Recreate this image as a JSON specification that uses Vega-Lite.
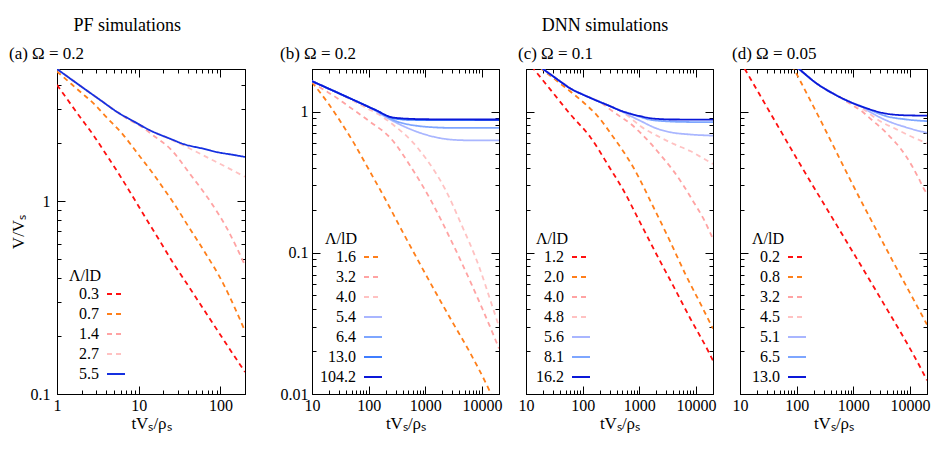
{
  "$schema": "https://vega.github.io/schema/vega-lite/v6.json",
  "background": "white",
  "padding": {"left": 8, "top": 16, "right": 13, "bottom": 4},
  "config": {
    "font": "Liberation Serif",
    "view": {"stroke": "black", "strokeWidth": 1},
    "axis": {
      "grid": false, "domainColor": "black", "tickColor": "black", "labelColor": "black", "titleColor": "black",
      "labelFont": "Liberation Serif", "titleFont": "Liberation Serif", "labelFontSize": 16, "titleFontSize": 17,
      "titleFontWeight": "normal", "labelFlush": false, "labelOverlap": false, "labelPadding": 11, "tickWidth": 1
    },
    "axisX": {"titlePadding": -2},
    "title": {"font": "Liberation Serif", "fontWeight": "normal", "fontSize": 17, "color": "black"},
    "legend": {
      "labelFont": "Liberation Serif", "titleFont": "Liberation Serif", "labelFontSize": 16, "titleFontSize": 16,
      "titleFontWeight": "normal", "labelColor": "black", "titleColor": "black", "rowPadding": 2, "titlePadding": 0,
      "symbolType": "stroke", "symbolSize": 324, "symbolStrokeWidth": 1.8, "labelAlign": "right", "labelOffset": -27,
      "titleAlign": "right", "titleAnchor": "start"
    },
    "line": {"strokeWidth": 1.8, "clip": true, "interpolate": "monotone"}
  },
  "datasets": {
    "a": [
      {"l":"0.3","t":1,"v":4.02},{"l":"0.3","t":1.5,"v":3.16},{"l":"0.3","t":2,"v":2.67},{"l":"0.3","t":2.8,"v":2.2},{"l":"0.3","t":4,"v":1.75},{"l":"0.3","t":5.95,"v":1.35},{"l":"0.3","t":8,"v":1.1},{"l":"0.3","t":12.6,"v":0.8},{"l":"0.3","t":18,"v":0.626},{"l":"0.3","t":26.7,"v":0.475},{"l":"0.3","t":40,"v":0.367},{"l":"0.3","t":56.8,"v":0.292},{"l":"0.3","t":80,"v":0.234},{"l":"0.3","t":120,"v":0.18},{"l":"0.3","t":175,"v":0.1415},{"l":"0.3","t":200,"v":0.13},
      {"l":"0.7","t":1,"v":4.72},{"l":"0.7","t":1.5,"v":4.06},{"l":"0.7","t":2,"v":3.65},{"l":"0.7","t":2.8,"v":3.22},{"l":"0.7","t":4,"v":2.74},{"l":"0.7","t":6.53,"v":2.2},{"l":"0.7","t":10,"v":1.74},{"l":"0.7","t":15.2,"v":1.38},{"l":"0.7","t":20,"v":1.17},{"l":"0.7","t":26.7,"v":0.98},{"l":"0.7","t":40,"v":0.748},{"l":"0.7","t":62.3,"v":0.557},{"l":"0.7","t":109,"v":0.372},{"l":"0.7","t":150,"v":0.28},{"l":"0.7","t":200,"v":0.212},
      {"l":"1.4","t":1,"v":4.86},{"l":"1.4","t":1.5,"v":4.29},{"l":"1.4","t":2.12,"v":3.86},{"l":"1.4","t":3.5,"v":3.32},{"l":"1.4","t":5.43,"v":2.91},{"l":"1.4","t":8,"v":2.62},{"l":"1.4","t":10.5,"v":2.46},{"l":"1.4","t":15,"v":2.2},{"l":"1.4","t":24.4,"v":1.87},{"l":"1.4","t":42.8,"v":1.38},{"l":"1.4","t":75,"v":1.0},{"l":"1.4","t":120,"v":0.725},{"l":"1.4","t":200,"v":0.465},
      {"l":"2.7","t":1,"v":4.86},{"l":"2.7","t":1.5,"v":4.29},{"l":"2.7","t":2.12,"v":3.86},{"l":"2.7","t":3.5,"v":3.32},{"l":"2.7","t":5.43,"v":2.91},{"l":"2.7","t":8.66,"v":2.6},{"l":"2.7","t":13.9,"v":2.33},{"l":"2.7","t":24.4,"v":2.1},{"l":"2.7","t":39,"v":1.91},{"l":"2.7","t":75,"v":1.66},{"l":"2.7","t":120,"v":1.5},{"l":"2.7","t":200,"v":1.34},
      {"l":"5.5","t":1,"v":4.86},{"l":"5.5","t":1.5,"v":4.29},{"l":"5.5","t":2.12,"v":3.86},{"l":"5.5","t":3.5,"v":3.32},{"l":"5.5","t":5.43,"v":2.91},{"l":"5.5","t":8.66,"v":2.6},{"l":"5.5","t":13.9,"v":2.33},{"l":"5.5","t":24.4,"v":2.11},{"l":"5.5","t":35.6,"v":1.98},{"l":"5.5","t":60,"v":1.88},{"l":"5.5","t":91,"v":1.8},{"l":"5.5","t":140,"v":1.745},{"l":"5.5","t":200,"v":1.7}
    ],
    "b": [
      {"l":"1.6","t":10,"v":1.61},{"l":"1.6","t":20,"v":1.12},{"l":"1.6","t":30,"v":0.88},{"l":"1.6","t":56,"v":0.59},{"l":"1.6","t":100,"v":0.39},{"l":"1.6","t":191,"v":0.245},{"l":"1.6","t":400,"v":0.14},{"l":"1.6","t":748,"v":0.088},{"l":"1.6","t":1500,"v":0.053},{"l":"1.6","t":2920,"v":0.033},{"l":"1.6","t":6000,"v":0.02},{"l":"1.6","t":12170,"v":0.0116},{"l":"1.6","t":16000,"v":0.0092},{"l":"1.6","t":20000,"v":0.0078},
      {"l":"3.2","t":10,"v":1.64},{"l":"3.2","t":14,"v":1.48},{"l":"3.2","t":25,"v":1.28},{"l":"3.2","t":40,"v":1.12},{"l":"3.2","t":100,"v":0.86},{"l":"3.2","t":250,"v":0.64},{"l":"3.2","t":570,"v":0.4},{"l":"3.2","t":1290,"v":0.23},{"l":"3.2","t":2920,"v":0.12},{"l":"3.2","t":6650,"v":0.059},{"l":"3.2","t":14900,"v":0.028},{"l":"3.2","t":20000,"v":0.021},
      {"l":"4.0","t":10,"v":1.64},{"l":"4.0","t":20,"v":1.45},{"l":"4.0","t":30,"v":1.34},{"l":"4.0","t":60,"v":1.16},{"l":"4.0","t":100,"v":1.04},{"l":"4.0","t":146,"v":0.96},{"l":"4.0","t":288,"v":0.79},{"l":"4.0","t":570,"v":0.62},{"l":"4.0","t":980,"v":0.476},{"l":"4.0","t":2220,"v":0.284},{"l":"4.0","t":4380,"v":0.157},{"l":"4.0","t":8670,"v":0.082},{"l":"4.0","t":14900,"v":0.043},{"l":"4.0","t":20000,"v":0.03},
      {"l":"5.4","t":10,"v":1.64},{"l":"5.4","t":20,"v":1.447},{"l":"5.4","t":50,"v":1.225},{"l":"5.4","t":100,"v":1.078},{"l":"5.4","t":150,"v":0.98},{"l":"5.4","t":191,"v":0.925},{"l":"5.4","t":378,"v":0.8},{"l":"5.4","t":748,"v":0.714},{"l":"5.4","t":1470,"v":0.66},{"l":"5.4","t":2920,"v":0.632},{"l":"5.4","t":6000,"v":0.625},{"l":"5.4","t":20000,"v":0.624},
      {"l":"6.4","t":10,"v":1.64},{"l":"6.4","t":20,"v":1.447},{"l":"6.4","t":50,"v":1.225},{"l":"6.4","t":100,"v":1.078},{"l":"6.4","t":150,"v":0.995},{"l":"6.4","t":191,"v":0.94},{"l":"6.4","t":288,"v":0.862},{"l":"6.4","t":500,"v":0.81},{"l":"6.4","t":748,"v":0.79},{"l":"6.4","t":1500,"v":0.772},{"l":"6.4","t":2920,"v":0.766},{"l":"6.4","t":20000,"v":0.765},
      {"l":"13.0","t":10,"v":1.64},{"l":"13.0","t":20,"v":1.447},{"l":"13.0","t":50,"v":1.225},{"l":"13.0","t":100,"v":1.078},{"l":"13.0","t":150,"v":1.0},{"l":"13.0","t":191,"v":0.947},{"l":"13.0","t":250,"v":0.905},{"l":"13.0","t":378,"v":0.88},{"l":"13.0","t":600,"v":0.872},{"l":"13.0","t":1000,"v":0.87},{"l":"13.0","t":20000,"v":0.868},
      {"l":"104.2","t":10,"v":1.64},{"l":"104.2","t":20,"v":1.447},{"l":"104.2","t":50,"v":1.225},{"l":"104.2","t":100,"v":1.078},{"l":"104.2","t":150,"v":1.0},{"l":"104.2","t":191,"v":0.95},{"l":"104.2","t":250,"v":0.912},{"l":"104.2","t":378,"v":0.895},{"l":"104.2","t":600,"v":0.886},{"l":"104.2","t":1000,"v":0.882},{"l":"104.2","t":3000,"v":0.879},{"l":"104.2","t":20000,"v":0.878}
    ],
    "c": [
      {"l":"1.2","t":10,"v":2.35},{"l":"1.2","t":13.7,"v":2.0},{"l":"1.2","t":27,"v":1.43},{"l":"1.2","t":60,"v":0.96},{"l":"1.2","t":136,"v":0.66},{"l":"1.2","t":300,"v":0.4},{"l":"1.2","t":525,"v":0.277},{"l":"1.2","t":1000,"v":0.168},{"l":"1.2","t":2040,"v":0.0964},{"l":"1.2","t":4000,"v":0.058},{"l":"1.2","t":7900,"v":0.0344},{"l":"1.2","t":16600,"v":0.02},{"l":"1.2","t":20000,"v":0.0172},
      {"l":"2.0","t":10,"v":2.46},{"l":"2.0","t":19,"v":2.0},{"l":"2.0","t":40,"v":1.58},{"l":"2.0","t":69,"v":1.33},{"l":"2.0","t":120,"v":1.1},{"l":"2.0","t":179,"v":0.94},{"l":"2.0","t":329,"v":0.68},{"l":"2.0","t":791,"v":0.4},{"l":"2.0","t":1780,"v":0.21},{"l":"2.0","t":3510,"v":0.12},{"l":"2.0","t":6460,"v":0.071},{"l":"2.0","t":11860,"v":0.044},{"l":"2.0","t":20000,"v":0.029},
      {"l":"4.0","t":10,"v":2.5},{"l":"4.0","t":20,"v":2.0},{"l":"4.0","t":31,"v":1.76},{"l":"4.0","t":45,"v":1.58},{"l":"4.0","t":60,"v":1.46},{"l":"4.0","t":100,"v":1.32},{"l":"4.0","t":136,"v":1.25},{"l":"4.0","t":200,"v":1.17},{"l":"4.0","t":300,"v":1.04},{"l":"4.0","t":462,"v":0.92},{"l":"4.0","t":700,"v":0.82},{"l":"4.0","t":1000,"v":0.72},{"l":"4.0","t":1550,"v":0.6},{"l":"4.0","t":2500,"v":0.48},{"l":"4.0","t":4000,"v":0.38},{"l":"4.0","t":6000,"v":0.3},{"l":"4.0","t":9000,"v":0.23},{"l":"4.0","t":13500,"v":0.175},{"l":"4.0","t":20000,"v":0.125},
      {"l":"4.8","t":10,"v":2.5},{"l":"4.8","t":20,"v":2.0},{"l":"4.8","t":31,"v":1.76},{"l":"4.8","t":45,"v":1.58},{"l":"4.8","t":60,"v":1.46},{"l":"4.8","t":100,"v":1.32},{"l":"4.8","t":136,"v":1.25},{"l":"4.8","t":200,"v":1.17},{"l":"4.8","t":307,"v":1.09},{"l":"4.8","t":450,"v":1.02},{"l":"4.8","t":525,"v":0.98},{"l":"4.8","t":700,"v":0.9},{"l":"4.8","t":1040,"v":0.79},{"l":"4.8","t":2040,"v":0.675},{"l":"4.8","t":4010,"v":0.59},{"l":"4.8","t":7900,"v":0.525},{"l":"4.8","t":13550,"v":0.465},{"l":"4.8","t":20000,"v":0.425},
      {"l":"5.6","t":10,"v":2.5},{"l":"5.6","t":20,"v":2.0},{"l":"5.6","t":31,"v":1.76},{"l":"5.6","t":45,"v":1.58},{"l":"5.6","t":60,"v":1.46},{"l":"5.6","t":100,"v":1.32},{"l":"5.6","t":136,"v":1.25},{"l":"5.6","t":200,"v":1.17},{"l":"5.6","t":307,"v":1.09},{"l":"5.6","t":450,"v":1.02},{"l":"5.6","t":520,"v":0.99},{"l":"5.6","t":700,"v":0.93},{"l":"5.6","t":1040,"v":0.86},{"l":"5.6","t":2000,"v":0.76},{"l":"5.6","t":3500,"v":0.714},{"l":"5.6","t":7900,"v":0.688},{"l":"5.6","t":20000,"v":0.675},
      {"l":"8.1","t":10,"v":2.5},{"l":"8.1","t":20,"v":2.0},{"l":"8.1","t":31,"v":1.76},{"l":"8.1","t":45,"v":1.58},{"l":"8.1","t":60,"v":1.46},{"l":"8.1","t":100,"v":1.32},{"l":"8.1","t":136,"v":1.25},{"l":"8.1","t":200,"v":1.17},{"l":"8.1","t":307,"v":1.09},{"l":"8.1","t":450,"v":1.02},{"l":"8.1","t":693,"v":0.965},{"l":"8.1","t":1000,"v":0.92},{"l":"8.1","t":1550,"v":0.875},{"l":"8.1","t":3500,"v":0.85},{"l":"8.1","t":7000,"v":0.843},{"l":"8.1","t":20000,"v":0.84},
      {"l":"16.2","t":10,"v":2.5},{"l":"16.2","t":20,"v":2.0},{"l":"16.2","t":31,"v":1.76},{"l":"16.2","t":45,"v":1.58},{"l":"16.2","t":60,"v":1.46},{"l":"16.2","t":100,"v":1.32},{"l":"16.2","t":136,"v":1.25},{"l":"16.2","t":200,"v":1.17},{"l":"16.2","t":307,"v":1.09},{"l":"16.2","t":450,"v":1.02},{"l":"16.2","t":693,"v":0.965},{"l":"16.2","t":1000,"v":0.93},{"l":"16.2","t":1550,"v":0.897},{"l":"16.2","t":2500,"v":0.883},{"l":"16.2","t":3500,"v":0.878},{"l":"16.2","t":20000,"v":0.877}
    ],
    "d": [
      {"l":"0.2","t":10,"v":2.28},{"l":"0.2","t":12.6,"v":1.95},{"l":"0.2","t":30,"v":1.07},{"l":"0.2","t":118,"v":0.416},{"l":"0.2","t":597,"v":0.141},{"l":"0.2","t":3030,"v":0.0475},{"l":"0.2","t":15400,"v":0.0153},{"l":"0.2","t":20000,"v":0.0125},
      {"l":"0.8","t":70,"v":2.43},{"l":"0.8","t":90,"v":2.0},{"l":"0.8","t":283,"v":0.82},{"l":"0.8","t":557,"v":0.476},{"l":"0.8","t":1025,"v":0.292},{"l":"0.8","t":2300,"v":0.157},{"l":"0.8","t":5000,"v":0.087},{"l":"0.8","t":10000,"v":0.052},{"l":"0.8","t":20000,"v":0.031},
      {"l":"3.2","t":70,"v":2.32},{"l":"3.2","t":110,"v":2.0},{"l":"3.2","t":232,"v":1.567},{"l":"3.2","t":456,"v":1.33},{"l":"3.2","t":637,"v":1.23},{"l":"3.2","t":1000,"v":1.1},{"l":"3.2","t":1436,"v":1.0},{"l":"3.2","t":2000,"v":0.89},{"l":"3.2","t":3720,"v":0.714},{"l":"3.2","t":8350,"v":0.489},{"l":"3.2","t":14350,"v":0.335},{"l":"3.2","t":17600,"v":0.284},{"l":"3.2","t":20000,"v":0.262},
      {"l":"4.5","t":70,"v":2.32},{"l":"4.5","t":110,"v":2.0},{"l":"4.5","t":232,"v":1.567},{"l":"4.5","t":456,"v":1.33},{"l":"4.5","t":897,"v":1.164},{"l":"4.5","t":1500,"v":1.04},{"l":"4.5","t":2830,"v":0.864},{"l":"4.5","t":5570,"v":0.754},{"l":"4.5","t":9550,"v":0.677},{"l":"4.5","t":20000,"v":0.597},
      {"l":"5.1","t":70,"v":2.32},{"l":"5.1","t":110,"v":2.0},{"l":"5.1","t":232,"v":1.567},{"l":"5.1","t":456,"v":1.33},{"l":"5.1","t":897,"v":1.164},{"l":"5.1","t":1400,"v":1.085},{"l":"5.1","t":2000,"v":0.99},{"l":"5.1","t":3720,"v":0.87},{"l":"5.1","t":8350,"v":0.775},{"l":"5.1","t":20000,"v":0.706},
      {"l":"6.5","t":70,"v":2.32},{"l":"6.5","t":110,"v":2.0},{"l":"6.5","t":232,"v":1.567},{"l":"6.5","t":456,"v":1.33},{"l":"6.5","t":897,"v":1.164},{"l":"6.5","t":1765,"v":1.05},{"l":"6.5","t":2500,"v":0.985},{"l":"6.5","t":3720,"v":0.93},{"l":"6.5","t":8350,"v":0.88},{"l":"6.5","t":20000,"v":0.855},
      {"l":"13.0","t":70,"v":2.32},{"l":"13.0","t":110,"v":2.0},{"l":"13.0","t":232,"v":1.567},{"l":"13.0","t":456,"v":1.33},{"l":"13.0","t":897,"v":1.164},{"l":"13.0","t":1765,"v":1.05},{"l":"13.0","t":3600,"v":0.97},{"l":"13.0","t":8350,"v":0.94},{"l":"13.0","t":20000,"v":0.935}
    ]
  },
  "spacing": 33,
  "resolve": {"scale": {"x": "independent", "y": "independent", "color": "independent", "strokeDash": "independent"}, "legend": {"color": "independent", "strokeDash": "independent"}},
  "hconcat": [
    {
      "title": {"text": "PF simulations", "anchor": "middle", "fontSize": 18, "offset": 9},
      "hconcat": [
        {
          "width": 188, "height": 325,
          "title": {"text": "(a) Ω = 0.2", "anchor": "start", "offset": 6},
          "data": {"name": "a"},
          "resolve": {"axis": {"x": "independent", "y": "independent"}},
          "layer": [
            {
              "mark": {"type": "line", "clip": true, "strokeWidth": 1.8, "interpolate": "monotone"},
              "encoding": {
                "x": {"field": "t", "type": "quantitative", "scale": {"type": "log", "domain": [1, 200], "nice": false},
                  "axis": {"orient": "bottom", "title": "tVₛ/ρₛ", "values": [1,2,3,4,5,6,7,8,9,10,20,30,40,50,60,70,80,90,100],
                    "labelExpr": "datum.value == 1 ? '1' : datum.value == 10 ? '10' : datum.value == 100 ? '100' : ''",
                    "tickSize": {"condition": {"test": "datum.value == 1 || datum.value == 10 || datum.value == 100", "value": -8}, "value": -4}}},
                "y": {"field": "v", "type": "quantitative", "scale": {"type": "log", "domain": [0.1, 4.86], "nice": false},
                  "axis": {"orient": "left", "title": "V/Vₛ", "titlePadding": 3, "labelPadding": 15, "values": [0.1,0.2,0.3,0.4,0.5,0.6,0.7,0.8,0.9,1,2,3,4],
                    "labelExpr": "datum.value == 0.1 ? '0.1' : datum.value == 1 ? '1' : ''",
                    "tickSize": {"condition": {"test": "datum.value == 0.1 || datum.value == 1", "value": -8}, "value": -4}}},
                "color": {"field": "l", "type": "nominal", "scale": {"domain": ["0.3","0.7","1.4","2.7","5.5"], "range": ["#ff1010","#ff7f1a","#ffa3a3","#ffc2c2","#1530e0"]},
                  "legend": {"title": "Λ/lD", "orient": "none", "legendX": 12, "legendY": 199, "symbolOffset": 5}},
                "strokeDash": {"field": "l", "type": "nominal", "scale": {"domain": ["0.3","0.7","1.4","2.7","5.5"], "range": [[5,4],[5,4],[5,4],[5,4],[1,0]]},
                  "legend": {"title": "Λ/lD", "orient": "none", "legendX": 12, "legendY": 199, "symbolOffset": 5}}
              }
            },
            {
              "mark": {"type": "line", "opacity": 0, "clip": true},
              "encoding": {
                "x": {"field": "t", "type": "quantitative", "axis": {"orient": "top", "title": null, "labels": false, "values": [1,2,3,4,5,6,7,8,9,10,20,30,40,50,60,70,80,90,100],
                    "tickSize": {"condition": {"test": "datum.value == 1 || datum.value == 10 || datum.value == 100", "value": -8}, "value": -4}}},
                "y": {"field": "v", "type": "quantitative", "axis": {"orient": "right", "title": null, "labels": false, "values": [0.1,0.2,0.3,0.4,0.5,0.6,0.7,0.8,0.9,1,2,3,4],
                    "tickSize": {"condition": {"test": "datum.value == 0.1 || datum.value == 1", "value": -8}, "value": -4}}},
                "detail": {"field": "l"}
              }
            }
          ]
        }
      ]
    },
    {
      "title": {"text": "DNN simulations", "anchor": "middle", "fontSize": 18, "offset": 10},
      "spacing": 14,
      "resolve": {"scale": {"x": "independent", "y": "independent", "color": "independent", "strokeDash": "independent"}, "legend": {"color": "independent", "strokeDash": "independent"}},
      "hconcat": [
        {
          "width": 187, "height": 325,
          "title": {"text": "(b) Ω = 0.2", "anchor": "start", "offset": 5.5},
          "data": {"name": "b"},
          "resolve": {"axis": {"x": "independent", "y": "independent"}},
          "layer": [
            {
              "mark": {"type": "line", "clip": true, "strokeWidth": 1.8, "interpolate": "monotone"},
              "encoding": {
                "x": {"field": "t", "type": "quantitative", "scale": {"type": "log", "domain": [10, 20000], "nice": false},
                  "axis": {"orient": "bottom", "title": "tVₛ/ρₛ", "values": [10,20,30,40,50,60,70,80,90,100,200,300,400,500,600,700,800,900,1000,2000,3000,4000,5000,6000,7000,8000,9000,10000],
                    "labelExpr": "datum.value == 10 ? '10' : datum.value == 100 ? '100' : datum.value == 1000 ? '1000' : datum.value == 10000 ? '10000' : ''",
                    "tickSize": {"condition": {"test": "datum.value == 10 || datum.value == 100 || datum.value == 1000 || datum.value == 10000", "value": -8}, "value": -4}}},
                "y": {"field": "v", "type": "quantitative", "scale": {"type": "log", "domain": [0.01, 2], "nice": false},
                  "axis": {"orient": "left", "title": null, "labelPadding": 12, "values": [0.01,0.02,0.03,0.04,0.05,0.06,0.07,0.08,0.09,0.1,0.2,0.3,0.4,0.5,0.6,0.7,0.8,0.9,1],
                    "labelExpr": "datum.value == 0.01 ? '0.01' : datum.value == 0.1 ? '0.1' : datum.value == 1 ? '1' : ''",
                    "tickSize": {"condition": {"test": "datum.value == 0.01 || datum.value == 0.1 || datum.value == 1", "value": -8}, "value": -4}}},
                "color": {"field": "l", "type": "nominal", "scale": {"domain": ["1.6","3.2","4.0","5.4","6.4","13.0","104.2"], "range": ["#ff7f1a","#ffa3a3","#ffc2c2","#a9b6ff","#7ea6ff","#3f7dff","#0a18d8"]},
                  "legend": {"title": "Λ/lD", "orient": "none", "legendX": 13, "legendY": 162, "symbolOffset": 6}},
                "strokeDash": {"field": "l", "type": "nominal", "scale": {"domain": ["1.6","3.2","4.0","5.4","6.4","13.0","104.2"], "range": [[5,4],[5,4],[5,4],[1,0],[1,0],[1,0],[1,0]]},
                  "legend": {"title": "Λ/lD", "orient": "none", "legendX": 13, "legendY": 162, "symbolOffset": 6}}
              }
            },
            {
              "mark": {"type": "line", "opacity": 0, "clip": true},
              "encoding": {
                "x": {"field": "t", "type": "quantitative", "axis": {"orient": "top", "title": null, "labels": false, "values": [10,20,30,40,50,60,70,80,90,100,200,300,400,500,600,700,800,900,1000,2000,3000,4000,5000,6000,7000,8000,9000,10000],
                    "tickSize": {"condition": {"test": "datum.value == 10 || datum.value == 100 || datum.value == 1000 || datum.value == 10000", "value": -8}, "value": -4}}},
                "y": {"field": "v", "type": "quantitative", "axis": {"orient": "right", "title": null, "labels": false, "values": [0.01,0.02,0.03,0.04,0.05,0.06,0.07,0.08,0.09,0.1,0.2,0.3,0.4,0.5,0.6,0.7,0.8,0.9,1],
                    "tickSize": {"condition": {"test": "datum.value == 0.01 || datum.value == 0.1 || datum.value == 1", "value": -8}, "value": -4}}},
                "detail": {"field": "l"}
              }
            }
          ]
        },
        {
          "width": 187, "height": 325,
          "title": {"text": "(c) Ω = 0.1", "anchor": "start", "offset": 5.5},
          "data": {"name": "c"},
          "resolve": {"axis": {"x": "independent", "y": "independent"}},
          "layer": [
            {
              "mark": {"type": "line", "clip": true, "strokeWidth": 1.8, "interpolate": "monotone"},
              "encoding": {
                "x": {"field": "t", "type": "quantitative", "scale": {"type": "log", "domain": [10, 20000], "nice": false},
                  "axis": {"orient": "bottom", "title": "tVₛ/ρₛ", "values": [10,20,30,40,50,60,70,80,90,100,200,300,400,500,600,700,800,900,1000,2000,3000,4000,5000,6000,7000,8000,9000,10000],
                    "labelExpr": "datum.value == 10 ? '10' : datum.value == 100 ? '100' : datum.value == 1000 ? '1000' : datum.value == 10000 ? '10000' : ''",
                    "tickSize": {"condition": {"test": "datum.value == 10 || datum.value == 100 || datum.value == 1000 || datum.value == 10000", "value": -8}, "value": -4}}},
                "y": {"field": "v", "type": "quantitative", "scale": {"type": "log", "domain": [0.01, 2], "nice": false},
                  "axis": {"orient": "left", "title": null, "labels": false, "values": [0.01,0.02,0.03,0.04,0.05,0.06,0.07,0.08,0.09,0.1,0.2,0.3,0.4,0.5,0.6,0.7,0.8,0.9,1],
                    "tickSize": {"condition": {"test": "datum.value == 0.01 || datum.value == 0.1 || datum.value == 1", "value": -8}, "value": -4}}},
                "color": {"field": "l", "type": "nominal", "scale": {"domain": ["1.2","2.0","4.0","4.8","5.6","8.1","16.2"], "range": ["#ff1010","#ff7f1a","#ffa3a3","#ffc2c2","#a9b6ff","#7ea6ff","#0a18d8"]},
                  "legend": {"title": "Λ/lD", "orient": "none", "legendX": 10, "legendY": 162, "symbolOffset": 3}},
                "strokeDash": {"field": "l", "type": "nominal", "scale": {"domain": ["1.2","2.0","4.0","4.8","5.6","8.1","16.2"], "range": [[5,4],[5,4],[5,4],[5,4],[1,0],[1,0],[1,0]]},
                  "legend": {"title": "Λ/lD", "orient": "none", "legendX": 10, "legendY": 162, "symbolOffset": 3}}
              }
            },
            {
              "mark": {"type": "line", "opacity": 0, "clip": true},
              "encoding": {
                "x": {"field": "t", "type": "quantitative", "axis": {"orient": "top", "title": null, "labels": false, "values": [10,20,30,40,50,60,70,80,90,100,200,300,400,500,600,700,800,900,1000,2000,3000,4000,5000,6000,7000,8000,9000,10000],
                    "tickSize": {"condition": {"test": "datum.value == 10 || datum.value == 100 || datum.value == 1000 || datum.value == 10000", "value": -8}, "value": -4}}},
                "y": {"field": "v", "type": "quantitative", "axis": {"orient": "right", "title": null, "labels": false, "values": [0.01,0.02,0.03,0.04,0.05,0.06,0.07,0.08,0.09,0.1,0.2,0.3,0.4,0.5,0.6,0.7,0.8,0.9,1],
                    "tickSize": {"condition": {"test": "datum.value == 0.01 || datum.value == 0.1 || datum.value == 1", "value": -8}, "value": -4}}},
                "detail": {"field": "l"}
              }
            }
          ]
        },
        {
          "width": 187, "height": 325,
          "title": {"text": "(d) Ω = 0.05", "anchor": "start", "offset": 5.5},
          "data": {"name": "d"},
          "resolve": {"axis": {"x": "independent", "y": "independent"}},
          "layer": [
            {
              "mark": {"type": "line", "clip": true, "strokeWidth": 1.8, "interpolate": "monotone"},
              "encoding": {
                "x": {"field": "t", "type": "quantitative", "scale": {"type": "log", "domain": [10, 20000], "nice": false},
                  "axis": {"orient": "bottom", "title": "tVₛ/ρₛ", "values": [10,20,30,40,50,60,70,80,90,100,200,300,400,500,600,700,800,900,1000,2000,3000,4000,5000,6000,7000,8000,9000,10000],
                    "labelExpr": "datum.value == 10 ? '10' : datum.value == 100 ? '100' : datum.value == 1000 ? '1000' : datum.value == 10000 ? '10000' : ''",
                    "tickSize": {"condition": {"test": "datum.value == 10 || datum.value == 100 || datum.value == 1000 || datum.value == 10000", "value": -8}, "value": -4}}},
                "y": {"field": "v", "type": "quantitative", "scale": {"type": "log", "domain": [0.01, 2], "nice": false},
                  "axis": {"orient": "left", "title": null, "labels": false, "values": [0.01,0.02,0.03,0.04,0.05,0.06,0.07,0.08,0.09,0.1,0.2,0.3,0.4,0.5,0.6,0.7,0.8,0.9,1],
                    "tickSize": {"condition": {"test": "datum.value == 0.01 || datum.value == 0.1 || datum.value == 1", "value": -8}, "value": -4}}},
                "color": {"field": "l", "type": "nominal", "scale": {"domain": ["0.2","0.8","3.2","4.5","5.1","6.5","13.0"], "range": ["#ff1010","#ff7f1a","#ffa3a3","#ffc2c2","#a9b6ff","#7ea6ff","#0a18d8"]},
                  "legend": {"title": "Λ/lD", "orient": "none", "legendX": 12, "legendY": 162, "symbolOffset": 3}},
                "strokeDash": {"field": "l", "type": "nominal", "scale": {"domain": ["0.2","0.8","3.2","4.5","5.1","6.5","13.0"], "range": [[5,4],[5,4],[5,4],[5,4],[1,0],[1,0],[1,0]]},
                  "legend": {"title": "Λ/lD", "orient": "none", "legendX": 12, "legendY": 162, "symbolOffset": 3}}
              }
            },
            {
              "mark": {"type": "line", "opacity": 0, "clip": true},
              "encoding": {
                "x": {"field": "t", "type": "quantitative", "axis": {"orient": "top", "title": null, "labels": false, "values": [10,20,30,40,50,60,70,80,90,100,200,300,400,500,600,700,800,900,1000,2000,3000,4000,5000,6000,7000,8000,9000,10000],
                    "tickSize": {"condition": {"test": "datum.value == 10 || datum.value == 100 || datum.value == 1000 || datum.value == 10000", "value": -8}, "value": -4}}},
                "y": {"field": "v", "type": "quantitative", "axis": {"orient": "right", "title": null, "labels": false, "values": [0.01,0.02,0.03,0.04,0.05,0.06,0.07,0.08,0.09,0.1,0.2,0.3,0.4,0.5,0.6,0.7,0.8,0.9,1],
                    "tickSize": {"condition": {"test": "datum.value == 0.01 || datum.value == 0.1 || datum.value == 1", "value": -8}, "value": -4}}},
                "detail": {"field": "l"}
              }
            }
          ]
        }
      ]
    }
  ]
}
